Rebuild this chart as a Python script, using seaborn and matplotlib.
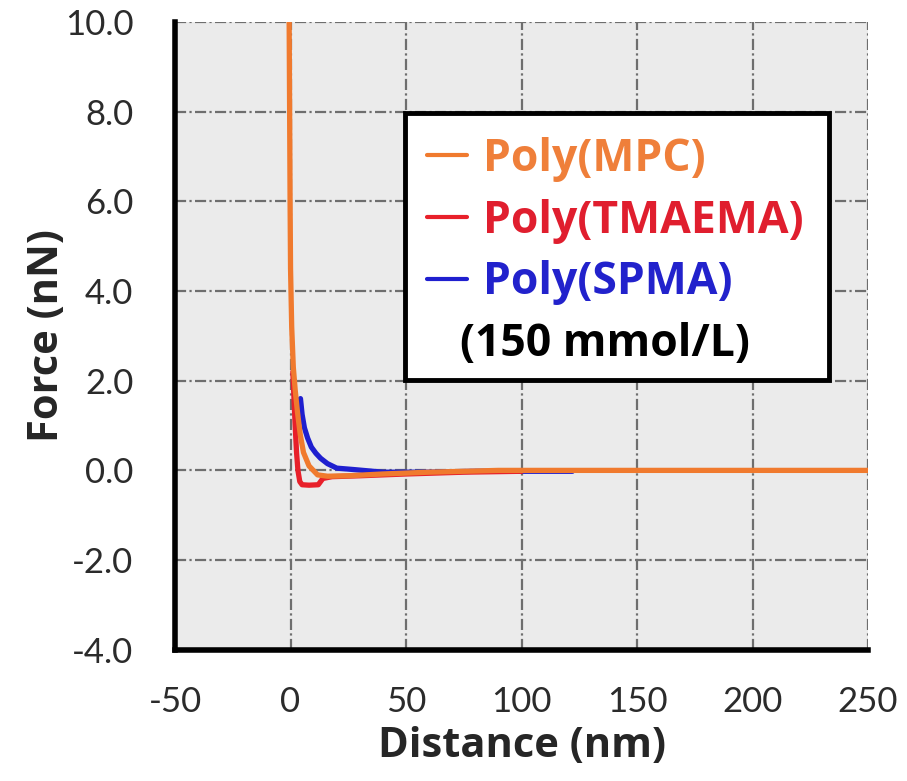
import matplotlib
matplotlib.use("Agg")
import matplotlib.pyplot as plt
from matplotlib.patches import Rectangle
import seaborn as sns
import pandas as pd

# Force–distance curves for three polymer brushes in 150 mmol/L salt
mpc_x = [-0.6, -0.4, -0.2, 0.0, 0.5, 1.2, 2.0, 3.0, 4.2, 5.6, 8.0, 11.7, 16, 25, 40, 60, 90, 130, 180, 250]
mpc_y = [10.0, 8.0, 6.0, 4.5, 3.2, 2.3, 1.8, 1.3, 0.8, 0.4, 0.1, -0.1, -0.13, -0.12, -0.08, -0.04, 0.0, 0.0, 0.0, 0.0]

tma_x = [1.0, 1.5, 2.0, 2.6, 3.2, 4.0, 5.0, 8.0, 12.0, 14.0, 18.0, 30, 50, 75, 100]
tma_y = [2.2, 1.6, 1.0, 0.4, 0.0, -0.25, -0.32, -0.33, -0.32, -0.18, -0.14, -0.12, -0.08, -0.04, -0.02]

spma_x = [4.3, 5.0, 6.0, 7.4, 9.0, 11.0, 13.0, 16.0, 20.0, 27.0, 40, 60, 80, 100, 122]
spma_y = [1.6, 1.25, 0.95, 0.72, 0.52, 0.38, 0.27, 0.15, 0.05, 0.02, -0.04, -0.04, -0.02, -0.02, -0.02]

series_names = ["Poly(MPC)", "Poly(TMAEMA)", "Poly(SPMA)"]
series_colors = ["#f07a2e", "#e8202a", "#1f1fcf"]
label_colors = ["#ef7f3a", "#e01e2e", "#2222cc"]
salt_note = "(150 mmol/L)"

x_ticks = [-50, 0, 50, 100, 150, 200, 250]
y_ticks = [-4.0, -2.0, 0.0, 2.0, 4.0, 6.0, 8.0, 10.0]

frames = []
for name, xs, ys in zip(series_names, [mpc_x, tma_x, spma_x], [mpc_y, tma_y, spma_y]):
    frames.append(pd.DataFrame({"Distance": xs, "Force": ys, "Polymer": name}))
df = pd.concat(frames, ignore_index=True)

sns.set_theme(style="white")
plt.rcParams["font.family"] = ["Lato", "DejaVu Sans"]

W, H = 907, 781
fig = plt.figure(figsize=(W / 100, H / 100), dpi=100)
ax = fig.add_axes([0.193, 0.168, 0.764, 0.804])
ax.set_facecolor("#ebebeb")

# draw the two background curves first so MPC sits on top
draw_order = ["Poly(SPMA)", "Poly(TMAEMA)", "Poly(MPC)"]
palette = dict(zip(series_names, series_colors))
for name in draw_order:
    sub = df[df["Polymer"] == name]
    sns.lineplot(data=sub, x="Distance", y="Force", color=palette[name],
                 sort=False, estimator=None, lw=3.8, ax=ax, legend=False)

ax.set_xlim(-50, 250)
ax.set_ylim(-4, 10)
ax.set_xticks(x_ticks)
ax.set_yticks(y_ticks)
ax.set_xticklabels([str(v) for v in x_ticks])
ax.set_yticklabels([f"{v:.1f}" for v in y_ticks])
ax.tick_params(axis="both", length=0, labelsize=25, colors="#2b2b2b")
ax.tick_params(axis="x", pad=26)
ax.tick_params(axis="y", pad=30)

ax.grid(True, color="#6e6e6e", lw=1.6, linestyle=(0, (5, 1.5, 1, 1.5)))
ax.set_axisbelow(True)

for side in ["top", "right"]:
    ax.spines[side].set_visible(False)
for side in ["left", "bottom"]:
    ax.spines[side].set_color("black")
    ax.spines[side].set_linewidth(4)

label_font = {"family": ["Open Sans", "DejaVu Sans"], "weight": "bold", "size": 30}
ax.set_xlabel("Distance (nm)", fontdict=label_font, labelpad=6)
ax.set_ylabel("Force (nN)", fontdict=label_font, labelpad=-2)

# legend box drawn as a plain rectangle, entries placed inside it
box = Rectangle((405 / W, 1 - 380 / H), 424 / W, 267 / H, transform=fig.transFigure,
                facecolor="white", edgecolor="black", lw=3.5, zorder=4)
ax.add_artist(box)

handles = [plt.Line2D([], [], color=c, lw=3) for c in series_colors]
handles.append(plt.Line2D([], [], color="none"))
labels = series_names + [salt_note]
leg = ax.legend(handles, labels, loc="center left",
                bbox_to_anchor=(427 / W, 1 - 252 / H), bbox_transform=fig.transFigure,
                prop={"family": ["Open Sans", "DejaVu Sans"], "weight": "bold", "size": 32},
                handlelength=0.9, handletextpad=0.36, labelspacing=0.38,
                borderpad=0, borderaxespad=0, frameon=False)
leg.set_zorder(5)
for txt, col in zip(leg.get_texts(), label_colors + ["black"]):
    txt.set_color(col)
leg.get_texts()[3].set_x(-23)

fig.savefig("out.png", dpi=100, facecolor="white")
